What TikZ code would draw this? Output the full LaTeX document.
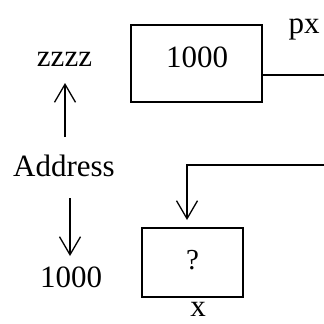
\documentclass[tikz,border=0pt]{standalone}
\usepackage{fontspec}
\setmainfont{Liberation Serif}
\usetikzlibrary{arrows.meta}
\begin{document}
\begin{tikzpicture}[x=1pt,y=-1pt,
  txt/.style={inner sep=0pt,anchor=base,font=\fontsize{31}{36}\selectfont},
  qtxt/.style={inner sep=0pt,anchor=base,font=\fontsize{29}{32}\selectfont},
  cell/.style={draw,line width=1.5pt,inner sep=0pt},
  conn/.style={line width=1.3pt},
  arr/.style={line width=1.3pt,-{Straight Barb[length=18pt,width=21pt,line width=1.3pt]}}]
\useasboundingbox (0,0) rectangle (324,324);
\fill[white] (0,0) rectangle (324,324);
% boxes
\node[cell,minimum width=131pt,minimum height=77pt] (b1) at (196.5,63.5) {};
\node[cell,minimum width=101pt,minimum height=69pt] (b2) at (192.5,262.5) {};
% texts
\node[txt] (v1) at (197,67) {1000};
\node[qtxt] (q) at (192.5,269) {?};
\node[txt] (px) at (304,33) {px};
\node[txt] (xx) at (198,316) {x};
\node[txt] (zz) at (64.5,66) {zzzz};
\node[txt] (ad) at (64,176) {Address};
\node[txt] (k) at (71,287) {1000};
% connectors
\coordinate (r1) at (324,75);
\coordinate (r2) at (324,165);
\coordinate (tip) at (187,220);
\draw[conn] (b1.east |- r1) -- (r1);
\draw[arr] (r2) -| (tip);
\coordinate (u1) at (65,137);
\coordinate (u2) at (65,83);
\coordinate (d1) at (70,198);
\coordinate (d2) at (70,256);
\draw[arr] (u1) -- (u2);
\draw[arr] (d1) -- (d2);
\end{tikzpicture}
\end{document}
